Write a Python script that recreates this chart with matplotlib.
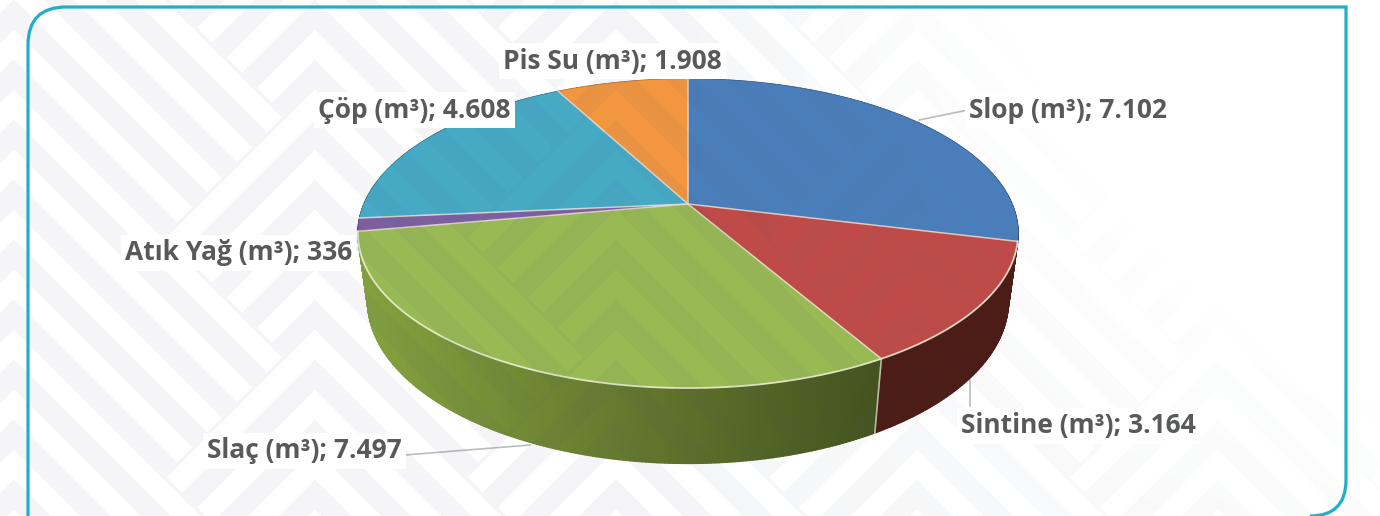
import matplotlib
matplotlib.use('Agg')
import matplotlib.pyplot as plt
import numpy as np
from matplotlib.collections import PolyCollection
from matplotlib.colors import to_rgb
from matplotlib.patches import PathPatch, Polygon
from matplotlib.path import Path

# Waste amounts in m3
categories = ['Slop', 'Sintine', 'Slaç', 'Atık Yağ', 'Çöp', 'Pis Su']
values = [7102, 3164, 7497, 336, 4608, 1908]

top_colors = ['#4a7ebb', '#be4b48', '#98b954', '#7d5fa0', '#46aac5', '#f39640']
wall_left = ['#2c4a70', '#5a2520', '#84a03e', '#4a3860', '#2a6676', '#93581f']
wall_right = ['#2c4a70', '#4c1c16', '#44531f', '#4a3860', '#2a6676', '#93581f']

label_x = [969, 961, 207, 125, 318, 503]
label_y = [110, 426, 451, 253, 110, 61]

TEXT = '#58595b'
TEAL = '#22aec6'

# perspective of the tilted pie, in pixels
CX, CY = 688, 204
A, B, C = 324, 148.9, 68.5
K, M = 0.191, 0.029


def project(theta, r=1.0, z=0.0):
    # theta is clockwise from 12 o'clock, z=1 is the bottom of the disc
    u = r * np.sin(theta)
    v = r * np.cos(theta)
    w = 1 + K * v + M * z
    return CX + A * u / w, CY + (C * z - B * v) / w


fig = plt.figure(figsize=(13.8, 5.16), dpi=100)
ax = fig.add_axes([0, 0, 1, 1])
ax.set_xlim(0, 1380)
ax.set_ylim(516, 0)
ax.axis('off')

edges = np.concatenate([[0], np.cumsum(values)]) / sum(values) * 2 * np.pi

# side wall, back to front
polys, cols, depth = [], [], []
for i in range(len(values)):
    steps = max(int((edges[i + 1] - edges[i]) / 0.01), 2)
    t = np.linspace(edges[i], edges[i + 1], steps + 1)
    for a, b in zip(t[:-1], t[1:]):
        xa, ya = project(a)
        xb, yb = project(b)
        xc, yc = project(b, z=1)
        xd, yd = project(a, z=1)
        polys.append([(xa, ya), (xb, yb), (xc, yc), (xd, yd)])
        f = np.clip((xa - 370) / 510, 0, 1)
        cols.append(tuple((1 - f) * np.array(to_rgb(wall_left[i])) + f * np.array(to_rgb(wall_right[i]))))
        depth.append(np.cos(a))
order = np.argsort(depth)[::-1]
ax.add_collection(PolyCollection([polys[j] for j in order], facecolors=[cols[j] for j in order],
                                 edgecolors=[cols[j] for j in order], linewidths=1.0, zorder=3))

# top face of each slice
for i in range(len(values)):
    t = np.linspace(edges[i], edges[i + 1], 200)
    xs, ys = project(t)
    pts = np.column_stack([np.r_[CX, xs], np.r_[CY, ys]])
    ax.add_patch(Polygon(pts, closed=True, facecolor=top_colors[i], edgecolor=top_colors[i], lw=0.3, zorder=4))

# light seams between slices and along the front rim
for e in edges[:-1]:
    x, y = project(e)
    ax.plot([CX, x], [CY, y], color='#f2e4d8', lw=1.1, alpha=0.8, zorder=5)
t = np.linspace(edges[1], edges[3], 300)
ax.plot(*project(t), color='#eef3d8', lw=1.3, alpha=0.85, zorder=5)
xa, ya = project(edges[2])
xb, yb = project(edges[2], z=1)
ax.plot([xa, xb], [ya, yb], color='#d8d8c0', lw=1.2, alpha=0.8, zorder=5)

# leader lines
for xs, ys in [([919, 968], [120, 110]), ([970, 970], [380, 406]), ([405, 530], [455, 445])]:
    ax.plot(xs, ys, color='#b9bcc0', lw=1.2, zorder=2)

# pale herringbone pattern behind and faintly over the pie
yy, xx = np.mgrid[0:516, 0:1380] + 0.5
local = (xx - 14) % 301
wave = np.abs(((yy + 125) % 240) - 120)
left_family = local < 151 + wave
arm = np.where(left_family, local, 301 - local)
mask = ((yy - arm) % 60) < 30
fade = np.clip(1 - (xx - 700) / 450 * (1.4 - yy / 516), 0, 1)
rgba = np.zeros((516, 1380, 4))
rgba[..., :3] = (0.3, 0.35, 0.45)
rgba[..., 3] = mask * fade * 0.055
ax.imshow(rgba, extent=[0, 1380, 516, 0], interpolation='bilinear', aspect='auto', zorder=6)
ax.set_xlim(0, 1380)
ax.set_ylim(516, 0)

# card outline, only two corners are rounded
frame = Path([(28, 516), (28, 45), (28, 7), (66, 7), (1346, 7), (1346, 480), (1346, 516), (1310, 516)],
             [Path.MOVETO, Path.LINETO, Path.CURVE3, Path.CURVE3, Path.LINETO, Path.LINETO, Path.CURVE3, Path.CURVE3])
ax.add_patch(PathPatch(frame, facecolor='none', edgecolor=TEAL, lw=2.3, zorder=7))

for name, val, x, y in zip(categories, values, label_x, label_y):
    txt = f"{name} (m³); {val:,}".replace(',', '.')
    ax.text(x, y, txt, family=['Open Sans', 'DejaVu Sans'], weight='bold', fontsize=19, color=TEXT,
            ha='left', va='center', zorder=8,
            bbox=dict(facecolor='white', edgecolor='none', pad=3))

fig.savefig('out.png', dpi=100)
